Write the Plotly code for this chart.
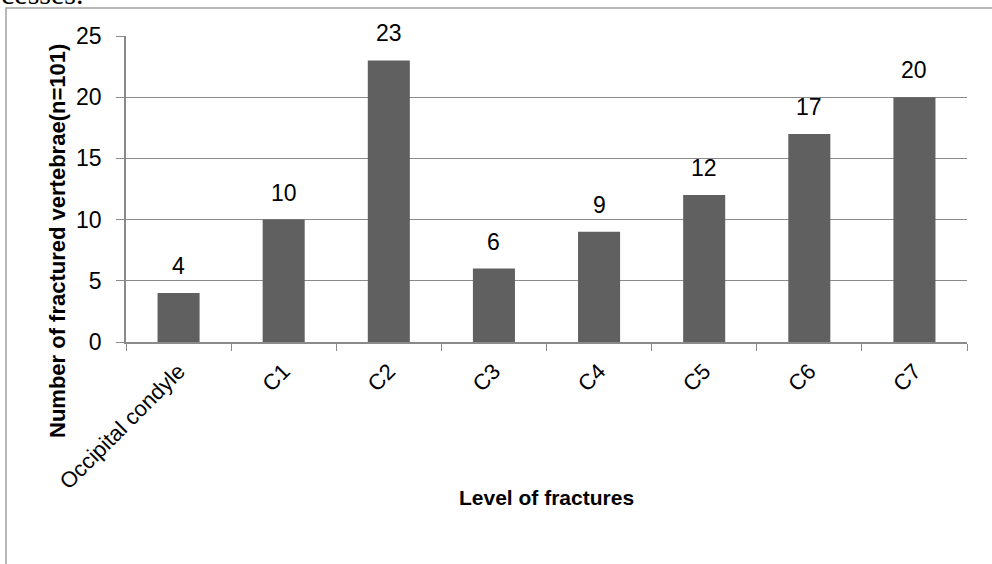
import plotly.graph_objects as go

categories = ["Occipital condyle", "C1", "C2", "C3", "C4", "C5", "C6", "C7"]
values = [4, 10, 23, 6, 9, 12, 17, 20]
y_ticks = [0, 5, 10, 15, 20, 25]

W, H = 992, 564
L, R, T, B = 126, 25, 36, 222
pw, ph = W - L - R, H - T - B

def px_x(x):
    return (x - L) / pw

def px_y(y):
    return (H - B - y) / ph

FONT = "Liberation Sans, Arial, sans-serif"
GRID = "#8a8a8a"

fig = go.Figure(go.Bar(x=categories, y=values, marker=dict(color="#606060", line=dict(width=0)),
                       hoverinfo="x+y"))

annotations = []
for c, v in zip(categories, values):
    annotations.append(dict(x=c, y=v, xref="x", yref="y", text=str(v), showarrow=False,
                            yanchor="bottom", yshift=12, font=dict(family=FONT, size=23, color="#000")))
annotations.append(dict(x=px_x(57), y=px_y(241), xref="paper", yref="paper", textangle=-90,
                        xanchor="center", yanchor="middle",
                        text="<b>Number of fractured vertebrae(n=101)</b>", showarrow=False,
                        font=dict(family=FONT, size=22, color="#000")))
annotations.append(dict(x=0.5, y=px_y(497), xref="paper", yref="paper",
                        xanchor="center", yanchor="middle",
                        text="<b>Level of fractures</b>", showarrow=False,
                        font=dict(family=FONT, size=21, color="#000")))
annotations.append(dict(x=px_x(-1), y=px_y(12), xref="paper", yref="paper", xanchor="left", yanchor="bottom",
                        text="cesses.", showarrow=False,
                        font=dict(family="Liberation Serif, Times New Roman, serif", size=30, color="#000")))

fig.update_layout(
    width=W, height=H,
    margin=dict(l=L, r=R, t=T, b=B, pad=0),
    paper_bgcolor="white", plot_bgcolor="white",
    showlegend=False, bargap=0.6,
    annotations=annotations,
    shapes=[dict(type="rect", xref="paper", yref="paper",
                 x0=px_x(6), y0=px_y(700), x1=px_x(1100), y1=px_y(8),
                 line=dict(color="#a0a0a0", width=1.5), layer="below")],
    xaxis=dict(type="category", showline=True, linecolor=GRID, linewidth=1.5,
               ticks="outside", tickson="boundaries", ticklen=7, tickcolor=GRID, tickwidth=1,
               tickangle=-45, tickfont=dict(family=FONT, size=22, color="#000"),
               ticklabelstandoff=6,
               showgrid=False, fixedrange=True),
    yaxis=dict(range=[0, 25], tickvals=y_ticks, showline=True, linecolor=GRID, linewidth=1.5,
               ticks="outside", ticklen=8, tickcolor=GRID, tickwidth=1,
               ticklabelstandoff=10,
               showgrid=True, gridcolor=GRID, gridwidth=1, zeroline=False,
               tickfont=dict(family=FONT, size=23, color="#000"), fixedrange=True),
)

fig.write_html("out.html")
